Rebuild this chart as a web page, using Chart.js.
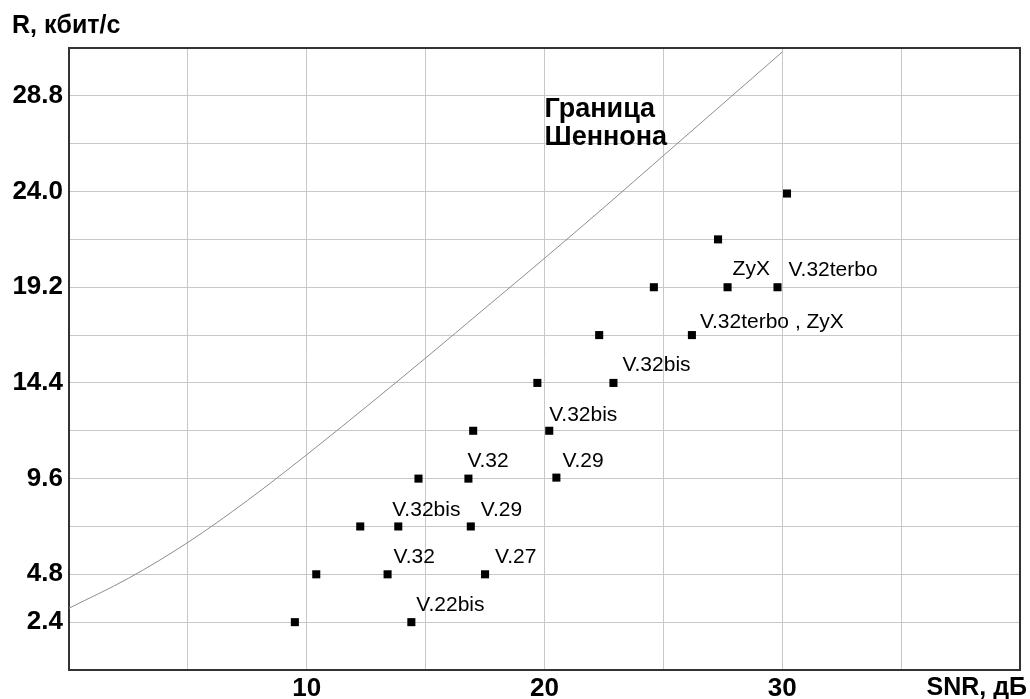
<!DOCTYPE html>
<html>
<head>
<meta charset="utf-8">
<script src="https://cdn.jsdelivr.net/npm/chart.js@4.4.1/dist/chart.umd.min.js"></script>
<style>
  html, body { margin: 0; padding: 0; background: #fff; }
  canvas { display: block; }
</style>
</head>
<body>
<canvas id="chart" width="1030" height="699"></canvas>
<script>
// modem points: SNR (dB) and rate (kbit/s)
const modemSnr  = [9.5, 14.4, 10.4, 13.4, 17.5, 12.25, 13.85, 16.9, 14.7, 16.8, 20.5, 17.0, 20.2, 19.7, 22.9, 22.3, 26.2, 24.6, 27.7, 29.8, 27.3, 30.2];
const modemRate = [2.4, 2.4, 4.8, 4.8, 4.8, 7.2, 7.2, 7.2, 9.6, 9.6, 9.65, 12.0, 12.0, 14.4, 14.4, 16.8, 16.8, 19.2, 19.2, 19.2, 21.6, 23.9];
const modemNames = ['', 'V.22bis', '', 'V.32', 'V.27', '', 'V.32bis', 'V.29', '', 'V.32', 'V.29', '', 'V.32bis', '', 'V.32bis', '', 'V.32terbo , ZyX', '', 'ZyX', 'V.32terbo', '', ''];

// Shannon limit curve
const shannonSnr  = [0, 2.5, 5, 7.5, 10, 12.5, 15, 17.5, 20, 22.5, 25, 27.5, 30];
const shannonRate = [3.1, 4.6, 6.4, 8.5, 10.8, 13.2, 15.65, 18.15, 20.65, 23.2, 25.8, 28.4, 31.0];

const xLabels = [10, 20, 30];
const yLabels = [2.4, 4.8, 9.6, 14.4, 19.2, 24.0, 28.8];

// label nudges (px) relative to each point
const labelDx = [0, 5, 0, 6, 10, 0, -6, 10, 0, -1, 6, 0, 0, 0, 9, 0, 8, 0, 5, 11, 0, 0];
const labelDy = [0, -11, 0, -11, -11, 0, -10, -10, 0, -12, -11, 0, -10, 0, -12, 0, -7, 0, -12, -11, 0, 0];

const FONT = "'Liberation Sans', Arial, sans-serif";

const extras = {
  id: 'extras',
  beforeDatasetsDraw(chart) {
    const { ctx, chartArea: a } = chart;
    ctx.save();
    ctx.strokeStyle = '#333';
    ctx.lineWidth = 2;
    ctx.strokeRect(a.left, a.top, a.right - a.left, a.bottom - a.top);
    ctx.restore();
  },
  afterDatasetsDraw(chart) {
    const { ctx, scales } = chart;
    const meta = chart.getDatasetMeta(1);
    ctx.save();
    ctx.fillStyle = '#000';
    ctx.textBaseline = 'alphabetic';
    ctx.textAlign = 'left';
    ctx.font = '21px ' + FONT;
    meta.data.forEach((pt, i) => {
      if (modemNames[i]) ctx.fillText(modemNames[i], pt.x + labelDx[i], pt.y + labelDy[i]);
    });

    // Shannon label
    ctx.font = 'bold 27px ' + FONT;
    const sx = scales.x.getPixelForValue(20);
    const sy = scales.y.getPixelForValue(28.8);
    ctx.fillText('Граница', sx, sy + 21);
    ctx.fillText('Шеннона', sx, sy + 49);

    // axis titles
    ctx.font = 'bold 25px ' + FONT;
    ctx.fillText('R, кбит/с', 12, 33);
    ctx.textAlign = 'right';
    ctx.fillText('SNR, дБ', 1027, 695);
    ctx.restore();
  }
};

new Chart(document.getElementById('chart'), {
  type: 'scatter',
  data: {
    datasets: [
      {
        label: 'Граница Шеннона',
        data: shannonSnr.map((x, i) => ({ x, y: shannonRate[i] })),
        showLine: true,
        borderColor: '#8c8c8c',
        borderWidth: 1,
        pointRadius: 0,
        cubicInterpolationMode: 'monotone'
      },
      {
        label: 'modems',
        data: modemSnr.map((x, i) => ({ x, y: modemRate[i] })),
        pointStyle: 'rect',
        pointRadius: 5.7,
        pointBorderWidth: 0,
        backgroundColor: '#000',
        borderColor: '#000'
      }
    ]
  },
  options: {
    responsive: false,
    animation: false,
    layout: { padding: { top: 48, right: 10, left: 0, bottom: 0 } },
    plugins: { legend: { display: false }, tooltip: { enabled: false } },
    scales: {
      x: {
        type: 'linear',
        min: 0, max: 40,
        afterFit: s => { s.height = 29; },
        grid: { color: '#c8c8c8', lineWidth: 1, drawTicks: false },
        border: { color: '#333', width: 2 },
        ticks: {
          stepSize: 5,
          padding: 3,
          autoSkip: false,
          maxRotation: 0,
          color: '#000',
          font: { family: FONT, size: 26, weight: 'bold' },
          callback: v => xLabels.includes(v) ? String(v) : ''
        }
      },
      y: {
        type: 'linear',
        min: 0, max: 31.2,
        afterFit: s => { s.width = 69; },
        grid: { color: '#c8c8c8', lineWidth: 1, drawTicks: false },
        border: { color: '#333', width: 2 },
        ticks: {
          stepSize: 2.4,
          padding: 6,
          autoSkip: false,
          color: '#000',
          font: { family: FONT, size: 26, weight: 'bold' },
          callback: v => {
            const r = Math.round(v * 10) / 10;
            return yLabels.includes(r) ? r.toFixed(1) : '';
          }
        }
      }
    }
  },
  plugins: [extras]
});
</script>
</body>
</html>
